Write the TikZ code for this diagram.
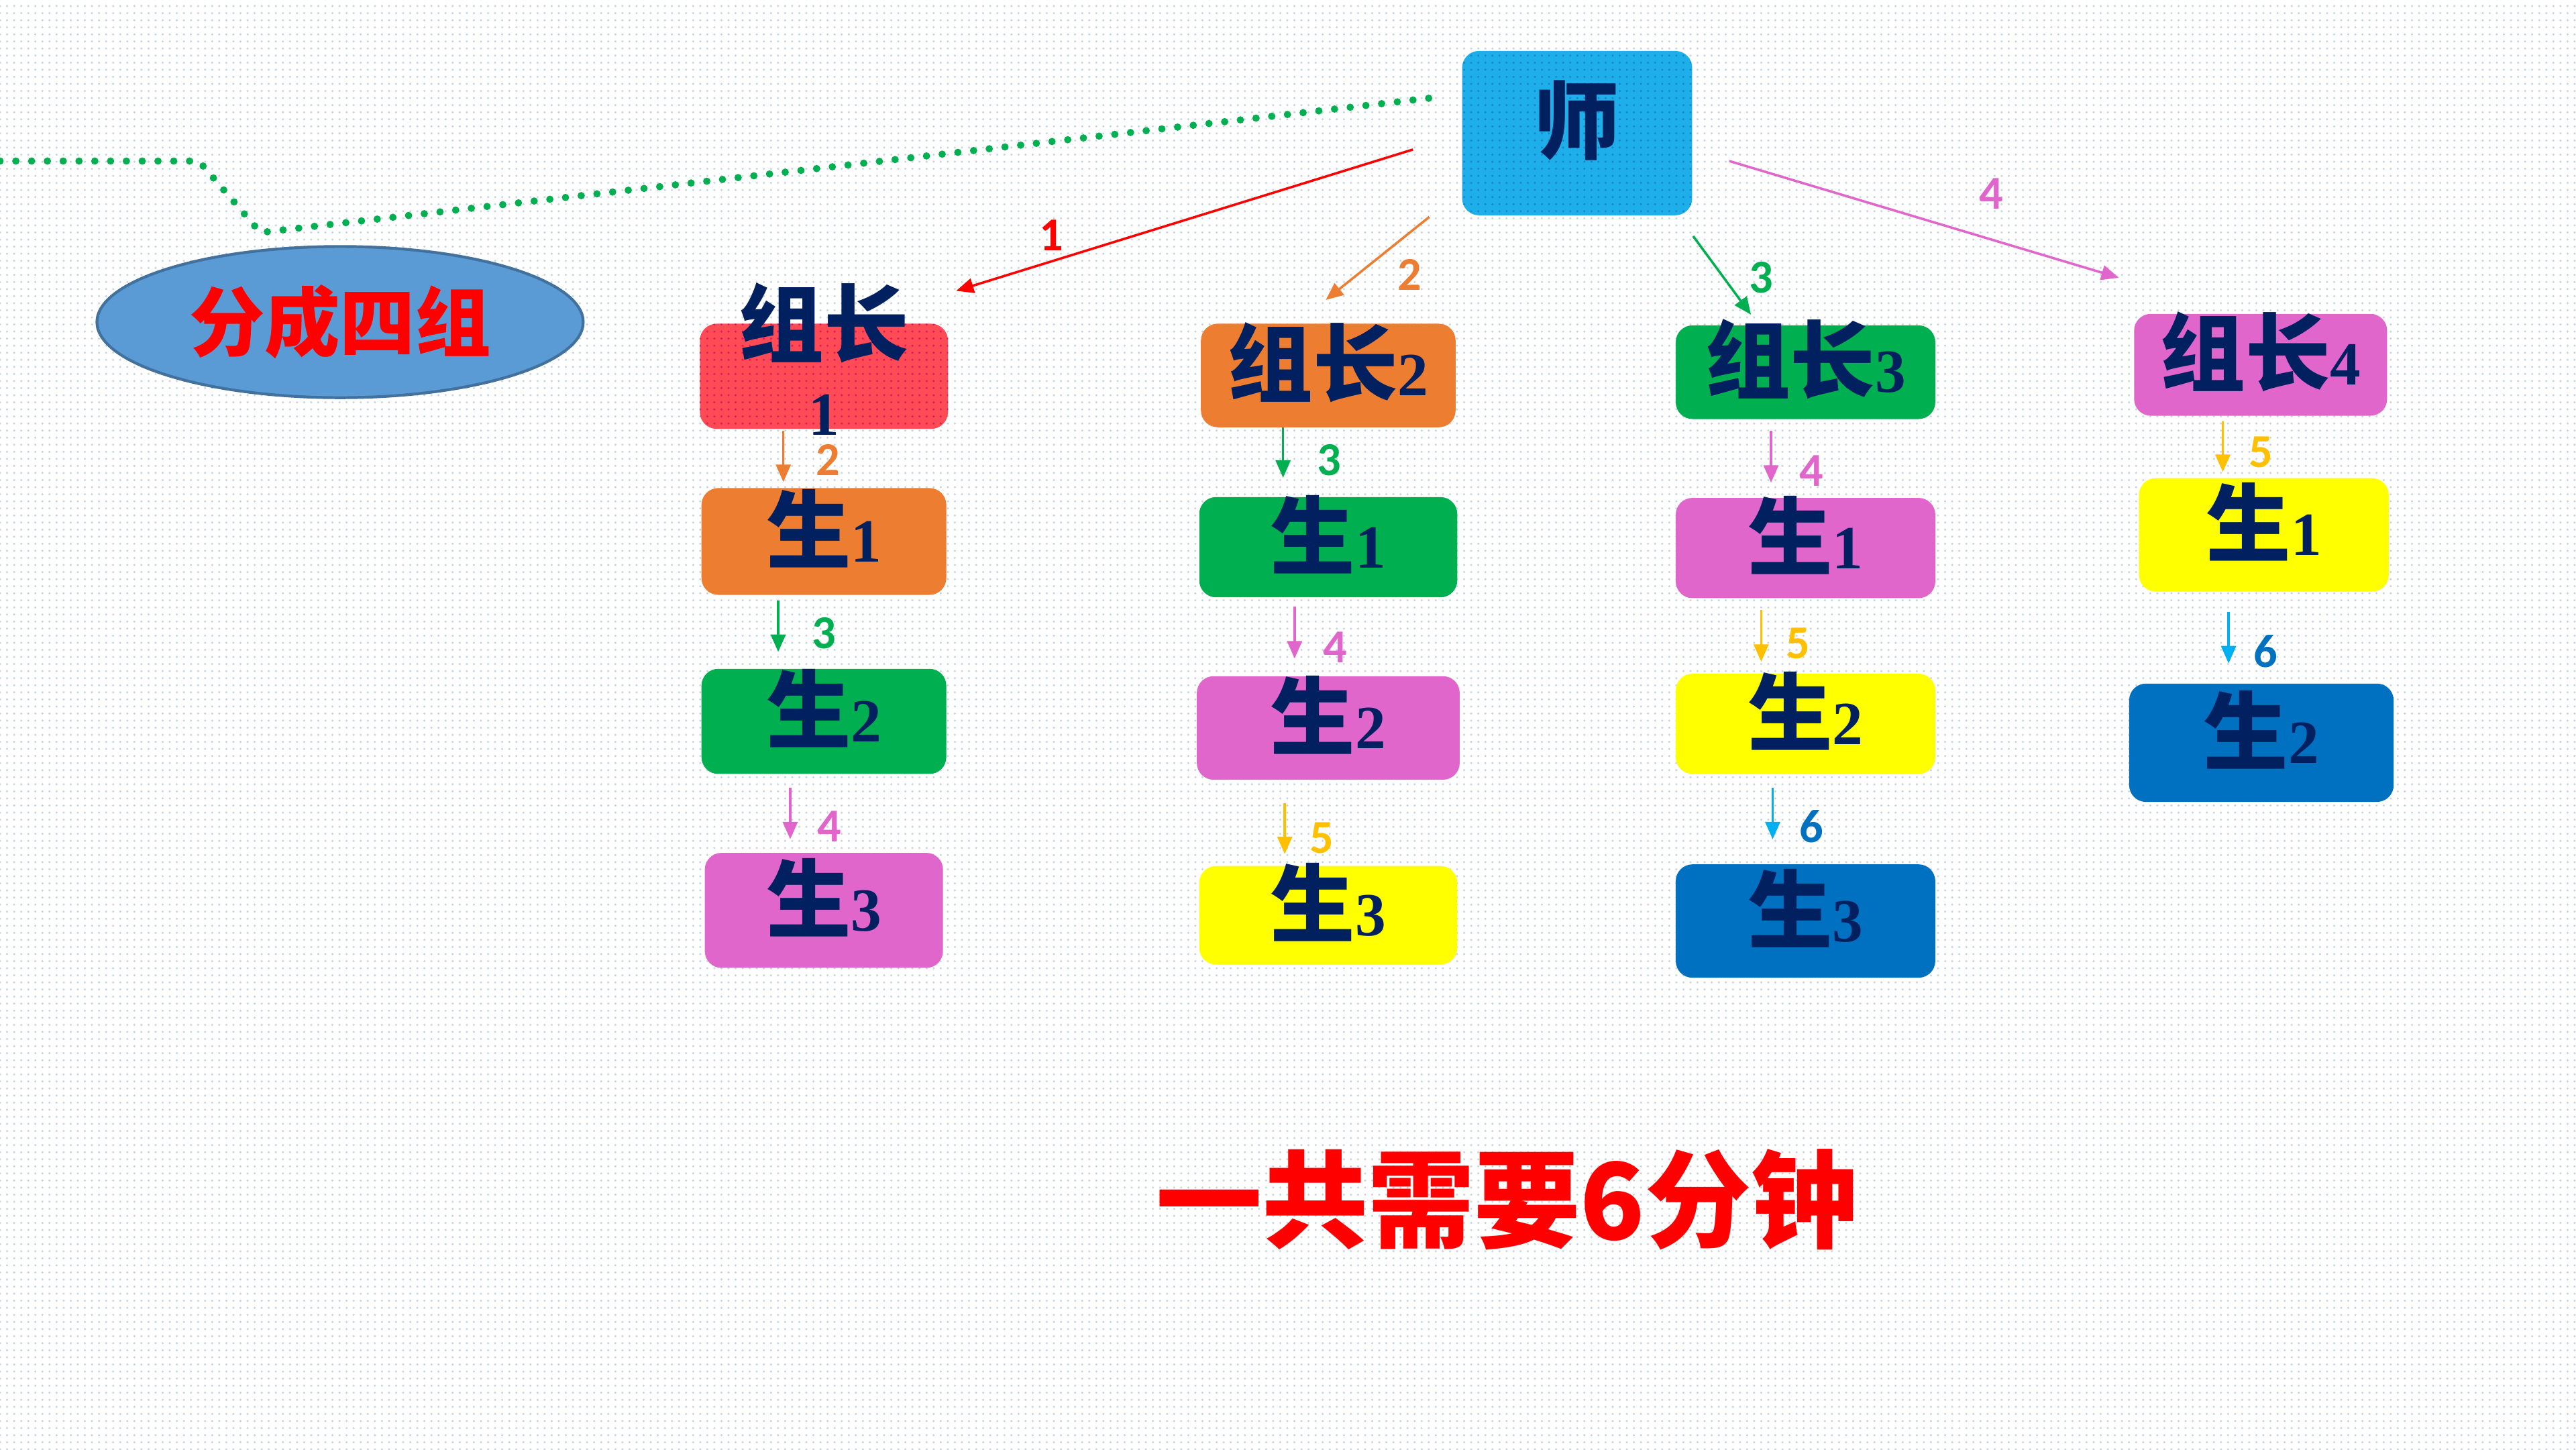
\documentclass[tikz,border=0pt]{standalone}
\usepackage{fontspec}
\newfontfamily\cjk{Noto Sans CJK SC}
\newfontfamily\labf{Carlito}
\newfontfamily\digf{Liberation Serif}
\usetikzlibrary{arrows.meta,patterns,shapes.geometric}
\definecolor{navy}{RGB}{0,32,96}
\definecolor{cred}{RGB}{255,0,0}
\definecolor{corange}{RGB}{237,125,49}
\definecolor{cgreen}{RGB}{0,176,80}
\definecolor{cpink}{RGB}{224,102,204}
\definecolor{cyellow}{RGB}{255,255,0}
\definecolor{cblue}{RGB}{0,112,192}
\definecolor{cgold}{RGB}{255,192,0}
\definecolor{csky}{RGB}{0,176,240}
\definecolor{cboxred}{RGB}{255,75,85}
\definecolor{cboxreddot}{RGB}{225,25,95}
\definecolor{cteach}{RGB}{30,175,235}
\definecolor{cteachdot}{RGB}{20,135,205}
\definecolor{cell}{RGB}{91,155,213}
\definecolor{celldraw}{RGB}{65,113,156}
\definecolor{bgdot}{RGB}{200,212,222}
\newcommand\subn[1]{{\digf\fontsize{26}{26}\selectfont #1}}
\begin{document}
\begin{tikzpicture}[x=0.02449cm, y=-0.02449cm,
  box/.style={rectangle, rounded corners=0.25cm, inner sep=0pt, draw=none},
  sz/.style 2 args={minimum width=#1*0.02449cm, minimum height=#2*0.02449cm},
  tx/.style={text=navy, font=\cjk\bfseries\fontsize{36}{33}\selectfont, inner sep=0pt, yshift=0.19cm},
  num/.style={font=\labf\bfseries\fontsize{20}{20}\selectfont, inner sep=0pt},
  arr/.style={line width=1pt, -{Triangle[length=0.26cm,width=0.22cm]}},
  dotline/.style={draw=cgreen, line width=3.1pt, line cap=round, dash pattern=on 0pt off 6.7pt}
]
\useasboundingbox (0,0) rectangle (1568,882);
\fill[white] (0,0) rectangle (1568,882);
\fill[pattern=dots, pattern color=bgdot] (0,0) rectangle (1568,882);

% teacher
\node[box, sz={140}{100}, fill=cteach, postaction={pattern=dots, pattern color=cteachdot},
  label={[tx, yshift=0cm]center:师}] (T) at (960,81) {};

% ellipse
\node[ellipse, sz={296}{92}, fill=cell, draw=celldraw, line width=1.2pt, inner sep=0pt,
  text=cred, font=\cjk\bfseries\fontsize{32}{32}\selectfont] (E) at (207,196) {分成四组};

% dotted line
\coordinate (dstart) at (0,98);
\draw[dotline] (dstart) -- (121,98) -- (158.5,141.5) -- ([shift={(-81,-22.3)}]T.center);

% column 1
\node[box, sz={151}{64}, fill=cboxred, postaction={pattern=dots, pattern color=cboxreddot},
  label={[tx, align=center, yshift=0.065cm, font=\cjk\bfseries\fontsize{36}{33.6}\selectfont]center:组长\\\subn{1}}] (L1) at (501.5,229) {};
\node[box, sz={149}{65}, fill=corange, label={[tx]center:生\subn{1}}] (A1) at (501.5,329.5) {};
\node[box, sz={149}{64}, fill=cgreen, label={[tx]center:生\subn{2}}] (A2) at (501.5,439) {};
\node[box, sz={145}{70}, fill=cpink, label={[tx]center:生\subn{3}}] (A3) at (501.5,554) {};

% column 2
\node[box, sz={155}{63}, fill=corange, label={[tx]center:组长\subn{2}}] (L2) at (808.5,228.5) {};
\node[box, sz={157}{61}, fill=cgreen, label={[tx]center:生\subn{1}}] (B1) at (808.5,333) {};
\node[box, sz={160}{63}, fill=cpink, label={[tx]center:生\subn{2}}] (B2) at (808.5,443) {};
\node[box, sz={157}{60}, fill=cyellow, label={[tx]center:生\subn{3}}] (B3) at (808.5,557) {};

% column 3
\node[box, sz={158}{57}, fill=cgreen, label={[tx]center:组长\subn{3}}] (L3) at (1099,226.5) {};
\node[box, sz={158}{61}, fill=cpink, label={[tx]center:生\subn{1}}] (C1) at (1099,333.5) {};
\node[box, sz={158}{61}, fill=cyellow, label={[tx]center:生\subn{2}}] (C2) at (1099,440.5) {};
\node[box, sz={158}{69}, fill=cblue, label={[tx]center:生\subn{3}}] (C3) at (1099,560.5) {};

% column 4
\node[box, sz={154}{62}, fill=cpink, label={[tx]center:组长\subn{4}}] (L4) at (1376,222) {};
\node[box, sz={152}{69}, fill=cyellow, label={[tx]center:生\subn{1}}] (D1) at (1378,325.5) {};
\node[box, sz={161}{72}, fill=cblue, label={[tx]center:生\subn{2}}] (D2) at (1376.5,452) {};

% teacher arrows
\draw[arr, cred] ([shift={(-100,10)}]T.center) -- ([shift={(80.5,-52)}]L1.center);
\draw[arr, corange] ([shift={(-90,51)}]T.center) -- ([shift={(-1.5,-46)}]L2.center);
\draw[arr, cgreen] ([shift={(70.6,62.7)}]T.center) -- ([shift={(-33.2,-35)}]L3.center);
\draw[arr, cpink] ([shift={(92.6,17)}]T.center) -- ([shift={(-86.3,-53)}]L4.center);
\node[num, text=cred] (n1) at (640,143) {1};
\node[num, text=corange] (n2) at (858,167) {2};
\node[num, text=cgreen] (n3) at (1072,169) {3};
\node[num, text=cpink] (n4) at (1212,118) {4};

% column 1 arrows
\draw[arr, corange] ([shift={(-24.7,1)}]L1.south) -- ([shift={(-24.7,-3.4)}]A1.north);
\draw[arr, cgreen] ([shift={(-27.8,3)}]A1.south) -- ([shift={(-27.8,-10)}]A2.north);
\draw[arr, cpink] ([shift={(-20.5,8)}]A2.south) -- ([shift={(-20.5,-8)}]A3.north);
\node[num, text=corange] (a2) at (504,280) {2};
\node[num, text=cgreen] (a3) at (501.5,385.5) {3};
\node[num, text=cpink] (a4) at (505,503) {4};

% column 2 arrows
\draw[arr, cgreen] ([shift={(-27.5,0)}]L2.south) -- ([shift={(-27.5,-11.5)}]B1.north);
\draw[arr, cpink] ([shift={(-20.5,5.5)}]B1.south) -- ([shift={(-20.5,-10.5)}]B2.north);
\draw[arr, cgold] ([shift={(-26.5,14)}]B2.south) -- ([shift={(-26.5,-7)}]B3.north);
\node[num, text=cgreen] (b3) at (809,280) {3};
\node[num, text=cpink] (b4) at (812.5,394) {4};
\node[num, text=cgold] (b5) at (804.5,510) {5};

% column 3 arrows
\draw[arr, cpink] ([shift={(-21,7)}]L3.south) -- ([shift={(-21,-9)}]C1.north);
\draw[arr, cgold] ([shift={(-27,7)}]C1.south) -- ([shift={(-27,-7)}]C2.north);
\draw[arr, csky] ([shift={(-20,8)}]C2.south) -- ([shift={(-20,-15)}]C3.north);
\node[num, text=cpink] (c4) at (1102.5,286.5) {4};
\node[num, text=cgold] (c5) at (1094.5,391.5) {5};
\node[num, text=cblue] (c6) at (1102.5,503) {6};

% column 4 arrows
\draw[arr, cgold] ([shift={(-23,3)}]L4.south) -- ([shift={(-25,-3.5)}]D1.north);
\draw[arr, csky] ([shift={(-21.5,12)}]D1.south) -- ([shift={(-20,-12)}]D2.north);
\node[num, text=cgold] (d5) at (1376,275) {5};
\node[num, text=cblue] (d6) at (1379,396.5) {6};

% bottom text
\node[text=cred, font=\cjk\bfseries\fontsize{45}{45}\selectfont, inner sep=0pt] (total) at (917,730) {一共需要6分钟};
\end{tikzpicture}
\end{document}
